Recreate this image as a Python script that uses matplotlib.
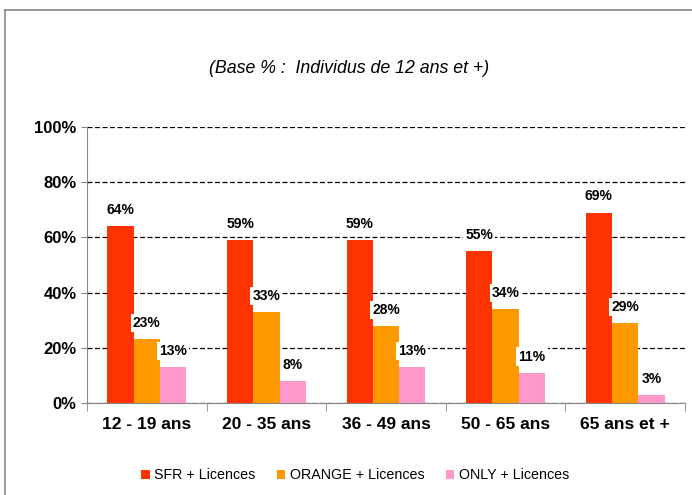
import numpy as np
import matplotlib
matplotlib.use("Agg")
import matplotlib.pyplot as plt
from matplotlib.lines import Line2D

plt.rcParams['font.family'] = ['Liberation Sans', 'DejaVu Sans']

groups = ["12 - 19 ans", "20 - 35 ans", "36 - 49 ans", "50 - 65 ans", "65 ans et +"]
series = ["SFR + Licences", "ORANGE + Licences", "ONLY + Licences"]
sfr = [64, 59, 59, 55, 69]
orange = [23, 33, 28, 34, 29]
only = [13, 8, 13, 11, 3]
colors = ["#FF3300", "#FF9900", "#FF99CC"]

fig = plt.figure(figsize=(6.92, 4.95), dpi=100)
ax = fig.add_axes([0.1257, 0.1859, 0.8642, 0.5576])

# outer frame of the slide: only top and left edges are inside the image
top = 1 - 10 / 495
left = 5 / 692
fig.add_artist(Line2D([left, 1.0], [top, top], transform=fig.transFigure, color="#888888", lw=1.2))
fig.add_artist(Line2D([left, left], [0, top], transform=fig.transFigure, color="#888888", lw=1.2))

x = np.arange(len(groups))
w = 0.22
for i, (vals, col, name) in enumerate(zip([sfr, orange, only], colors, series)):
    pos = x + (i - 1) * w
    ax.bar(pos, vals, width=w, color=col, label=name, zorder=3)
    for p, v in zip(pos, vals):
        ax.text(p, v + 3.3, f"{v}%", ha="center", va="bottom", fontsize=10, fontweight="bold",
                bbox=dict(facecolor="white", edgecolor="none", pad=1.5), zorder=4)

ax.set_xlim(-0.5, len(groups) - 0.5)
ax.set_ylim(0, 100)
ax.set_yticks(range(0, 101, 20))
ax.set_yticklabels([f"{t}%" for t in range(0, 101, 20)], fontsize=12, fontweight="bold")
ax.set_xticks(x)
ax.set_xticklabels(groups, fontsize=12.5, fontweight="bold")
ax.tick_params(axis="x", length=0, pad=10)
ax.set_xticks(np.arange(-0.5, len(groups)), minor=True)
ax.tick_params(axis="x", which="minor", length=6, color="#888888")
ax.tick_params(axis="y", length=4, color="#888888")
ax.yaxis.grid(True, linestyle=(0, (4, 2)), color="black", linewidth=0.9, zorder=0)
ax.set_axisbelow(True)
for s in ["top", "right"]:
    ax.spines[s].set_visible(False)
for s in ["left", "bottom"]:
    ax.spines[s].set_color("#888888")

fig.text(0.505, 0.862, "(Base % :  Individus de 12 ans et +)", ha="center", va="center",
         fontsize=12.8, style="italic")

fig.legend(loc="center", bbox_to_anchor=(0.513, 0.04), ncol=3, frameon=False, fontsize=10.3,
           handlelength=0.6, handleheight=0.6, handletextpad=0.3, columnspacing=1.5)

fig.savefig("out.png", dpi=100)
